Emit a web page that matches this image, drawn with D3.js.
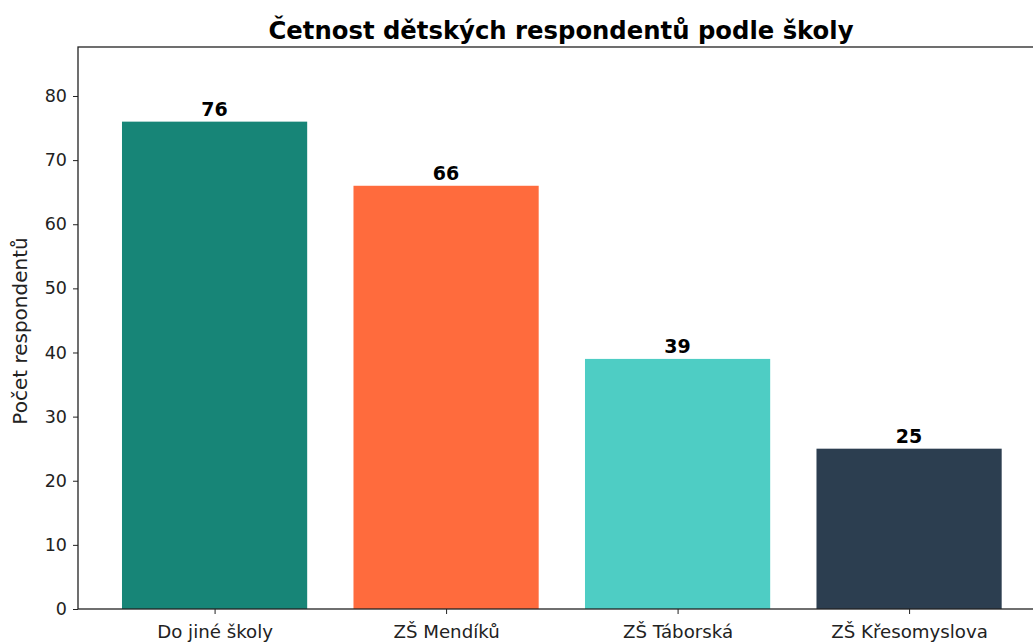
<!DOCTYPE html>
<html>
<head>
<meta charset="utf-8">
<script src="https://cdn.jsdelivr.net/npm/d3@7"></script>
<style>
  body { margin: 0; background: #fff; }
  svg { display: block; font-family: "DejaVu Sans", sans-serif; }
</style>
</head>
<body>
<svg id="chart" width="1033" height="643"></svg>
<script>
"use strict";

// data
const schools = ["Do jiné školy", "ZŠ Mendíků", "ZŠ Táborská", "ZŠ Křesomyslova"];
const counts = [76, 66, 39, 25];
const barColors = ["#178577", "#ff6b3d", "#4ecdc4", "#2c3e50"];
const yTicks = [0, 10, 20, 30, 40, 50, 60, 70, 80];

const svg = d3.select("#chart");
const plotLeft = 78, plotTop = 47, plotBottom = 609;
const unit = 231.5;                              // px per category step
const plotRight = plotLeft + 4.18 * unit;        // runs past the canvas like the original
const font = "DejaVu Sans, sans-serif";

// bar positions in category units, matplotlib-style margins
const x = d3.scaleLinear().domain([-0.59, 3.59]).range([plotLeft, plotRight]);
const y = d3.scaleLinear().domain([0, 87.64]).range([plotBottom, plotTop]);

const g = svg.append("g");

g.selectAll("rect.bar")
  .data(counts)
  .enter()
  .append("rect")
  .attr("class", "bar")
  .attr("x", (d, i) => x(i - 0.4))
  .attr("width", (d, i) => x(i + 0.4) - x(i - 0.4))
  .attr("y", d => y(d))
  .attr("height", d => y(0) - y(d))
  .attr("fill", (d, i) => barColors[i]);

// value labels
g.selectAll("text.val")
  .data(counts)
  .enter()
  .append("text")
  .attr("class", "val")
  .attr("x", (d, i) => x(i))
  .attr("y", d => y(d) - 6)
  .attr("text-anchor", "middle")
  .style("font-size", "19px")
  .style("font-weight", "bold")
  .text(d => d);

// frame
g.append("rect")
  .attr("x", plotLeft).attr("y", plotTop)
  .attr("width", plotRight - plotLeft).attr("height", plotBottom - plotTop)
  .attr("fill", "none")
  .attr("stroke", "#222")
  .attr("stroke-width", 1.3);

// y axis
const yAxis = d3.axisLeft(y).tickValues(yTicks).tickSize(5).tickPadding(6);
const ya = g.append("g").attr("transform", "translate(" + plotLeft + ",0)").call(yAxis)
  .attr("font-family", font).attr("font-size", 17.5);
ya.select(".domain").remove();
ya.selectAll("text").attr("fill", "#222");
ya.selectAll("line").attr("stroke", "#222");

// x axis
const xAxis = d3.axisBottom(x).tickValues([0, 1, 2, 3])
  .tickFormat(i => schools[i]).tickSize(5).tickPadding(11);
const xa = g.append("g").attr("transform", "translate(0," + plotBottom + ")").call(xAxis)
  .attr("font-family", font).attr("font-size", 18.2);
xa.select(".domain").remove();
xa.selectAll("text").attr("fill", "#222");
xa.selectAll("line").attr("stroke", "#222");

// y label
svg.append("text")
  .attr("transform", "translate(27," + 331 + ") rotate(-90)")
  .attr("text-anchor", "middle")
  .style("font-size", "20px")
  .attr("fill", "#222")
  .text("Počet respondentů");

// title
svg.append("text")
  .attr("x", 561)
  .attr("y", 39)
  .attr("text-anchor", "middle")
  .style("font-size", "24.3px")
  .style("font-weight", "bold")
  .text("Četnost dětských respondentů podle školy");
</script>
</body>
</html>
